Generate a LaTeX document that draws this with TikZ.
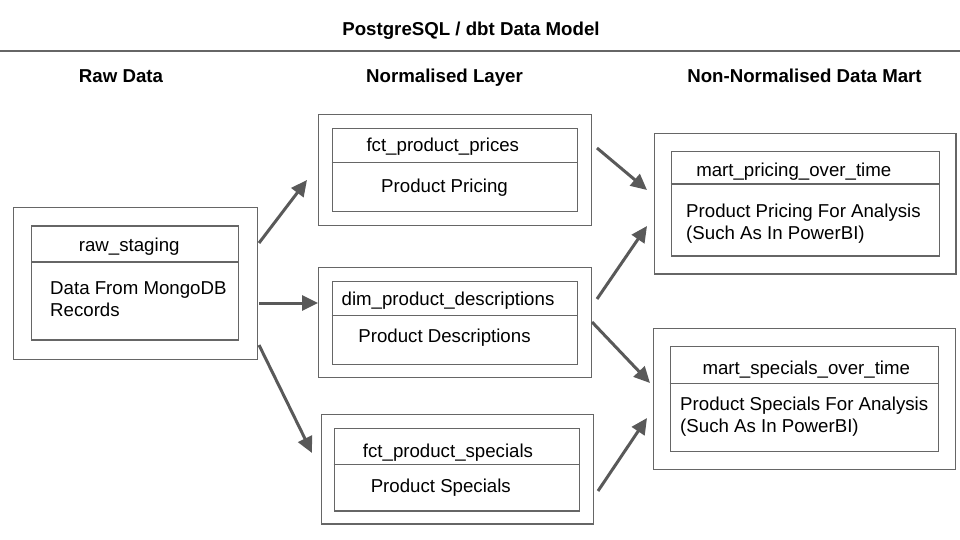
\documentclass[tikz,border=0pt]{standalone}
\usepackage{fontspec}
\setmainfont{Liberation Sans}
\usetikzlibrary{arrows.meta,fit}
\definecolor{arrowgray}{RGB}{89,89,89}
\definecolor{linegray}{RGB}{102,102,102}
\tikzset{
  boxline/.style={draw=linegray, line width=1.2pt, inner sep=0pt, rectangle},
  divline/.style={draw=linegray, line width=1.2pt},
  txt/.style={inner sep=0pt, font=\fontsize{18.67}{21.5}\selectfont, text=black},
  hdr/.style={inner sep=0pt, font=\fontsize{18.67}{21.5}\selectfont\bfseries, text=black},
  flow/.style={draw=arrowgray, line width=3pt, -{Triangle[length=16pt,width=15pt]}}
}
\begin{document}
\begin{tikzpicture}[x=1pt,y=-1pt]
\useasboundingbox (0,0) rectangle (960,540);

% title and headers
\node[hdr, anchor=base] (title) at (471,36) {PostgreSQL / dbt Data Model};
\coordinate (ruleL) at (0,51);
\coordinate (ruleR) at (960,51);
\draw[divline] (ruleL) -- (ruleR);
\node[hdr, anchor=base] (h1) at (121,82.5) {Raw Data};
\node[hdr, anchor=base] (h2) at (444.5,82.5) {Normalised Layer};
\node[hdr, anchor=base] (h3) at (804.5,82.5) {Non-Normalised Data Mart};

% raw
\node[boxline, fit={(13.3,207.3) (257.3,359.3)}] (rawO) {};
\node[boxline, fit={(31.7,226) (238.7,340)}] (rawI) {};
\draw[divline] (rawI.west |- 0,262) -- (rawI.east |- 0,262);
\node[txt, anchor=base] (rawT) at (129.2,251.7) {raw\_staging};
\node[txt, anchor=base west, align=left] (rawB) at (50,316) {Data From MongoDB\\Records};

% normalised
\node[boxline, fit={(318.3,114.3) (591.7,225.7)}] (p1O) {};
\node[boxline, fit={(332.3,128.3) (577.3,211.3)}] (p1I) {};
\draw[divline] (p1I.west |- 0,162.3) -- (p1I.east |- 0,162.3);
\node[txt, anchor=base] (p1T) at (442.8,151.5) {fct\_product\_prices};
\node[txt, anchor=base] (p1B) at (444.5,192.4) {Product Pricing};

\node[boxline, fit={(318.3,267.3) (591.7,377.3)}] (p2O) {};
\node[boxline, fit={(332.3,281.7) (577.3,364.3)}] (p2I) {};
\draw[divline] (p2I.west |- 0,315.3) -- (p2I.east |- 0,315.3);
\node[txt, anchor=base] (p2T) at (448,305.3) {dim\_product\_descriptions};
\node[txt, anchor=base] (p2B) at (444.5,342.4) {Product Descriptions};

\node[boxline, fit={(321.7,414.3) (593.7,524)}] (p3O) {};
\node[boxline, fit={(334.3,428.3) (579.3,511)}] (p3I) {};
\draw[divline] (p3I.west |- 0,464.3) -- (p3I.east |- 0,464.3);
\node[txt, anchor=base] (p3T) at (448,457) {fct\_product\_specials};
\node[txt, anchor=base] (p3B) at (440.8,492.4) {Product Specials};

% marts
\node[boxline, fit={(654.3,133.3) (956,274)}] (m1O) {};
\node[boxline, fit={(671.3,151.7) (939.3,256)}] (m1I) {};
\draw[divline] (m1I.west |- 0,184) -- (m1I.east |- 0,184);
\node[txt, anchor=base] (m1T) at (793.8,177) {mart\_pricing\_over\_time};
\node[txt, anchor=base west, align=left] (m1B) at (686,239) {Product Pricing For Analysis\\(Such As In PowerBI)};

\node[boxline, fit={(653.3,328.7) (955.3,469.3)}] (m2O) {};
\node[boxline, fit={(670.3,346.7) (938.7,451.3)}] (m2I) {};
\draw[divline] (m2I.west |- 0,383.3) -- (m2I.east |- 0,383.3);
\node[txt, anchor=base] (m2T) at (806.3,374) {mart\_specials\_over\_time};
\node[txt, anchor=base west, align=left] (m2B) at (680,432.2) {Product Specials For Analysis\\(Such As In PowerBI)};

% arrow end points
\coordinate (a1s) at (259,243);  \coordinate (a1e) at (307,180);
\coordinate (a2s) at (259,303);  \coordinate (a2e) at (318,303);
\coordinate (a3s) at (259,345);  \coordinate (a3e) at (312,453);
\coordinate (a4s) at (597,148);  \coordinate (a4e) at (647,190);
\coordinate (a5s) at (597,299);  \coordinate (a5e) at (647,226);
\coordinate (a6s) at (592,322);  \coordinate (a6e) at (650,383);
\coordinate (a7s) at (598,491);  \coordinate (a7e) at (647,418);

\draw[flow] (a1s) -- (a1e);
\draw[flow] (a2s) -- (a2e);
\draw[flow] (a3s) -- (a3e);
\draw[flow] (a4s) -- (a4e);
\draw[flow] (a5s) -- (a5e);
\draw[flow] (a6s) -- (a6e);
\draw[flow] (a7s) -- (a7e);
\end{tikzpicture}
\end{document}
